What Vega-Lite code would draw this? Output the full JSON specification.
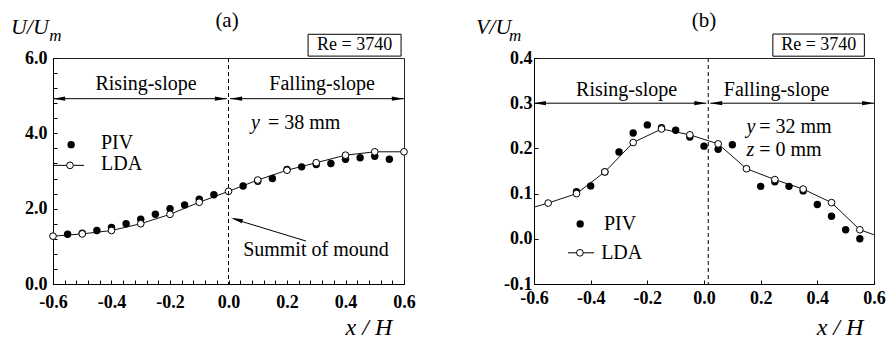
{
  "$schema": "https://vega.github.io/schema/vega-lite/v6.json",
  "autosize": {"type": "pad"},
  "padding": 0,
  "background": "white",
  "bounds": "flush",
  "spacing": 130,
  "config": {
    "view": {"stroke": "#222", "strokeWidth": 1},
    "font": "Liberation Serif",
    "axis": {"grid": false, "domainColor": "#000", "tickColor": "#000", "labelColor": "#000", "labelFont": "Liberation Serif", "labelFontWeight": "bold", "labelFontSize": 18, "tickSize": -4, "labelOverlap": false, "labelBound": false, "labelFlush": false},
    "text": {"font": "Liberation Serif", "color": "#000"}
  },
  "datasets": {
    "a_lda": [
      {"x": -0.6, "v": 1.27}, {"x": -0.5, "v": 1.33}, {"x": -0.4, "v": 1.42}, {"x": -0.3, "v": 1.6},
      {"x": -0.2, "v": 1.85}, {"x": -0.1, "v": 2.17}, {"x": 0.0, "v": 2.46}, {"x": 0.1, "v": 2.76},
      {"x": 0.2, "v": 3.02}, {"x": 0.3, "v": 3.22}, {"x": 0.4, "v": 3.42}, {"x": 0.5, "v": 3.51}, {"x": 0.6, "v": 3.51}
    ],
    "a_piv": [
      {"x": -0.55, "v": 1.32}, {"x": -0.5, "v": 1.35}, {"x": -0.45, "v": 1.42}, {"x": -0.4, "v": 1.5},
      {"x": -0.35, "v": 1.6}, {"x": -0.3, "v": 1.72}, {"x": -0.25, "v": 1.85}, {"x": -0.2, "v": 2.0},
      {"x": -0.15, "v": 2.1}, {"x": -0.1, "v": 2.25}, {"x": -0.05, "v": 2.37}, {"x": 0.05, "v": 2.6},
      {"x": 0.1, "v": 2.73}, {"x": 0.15, "v": 2.8}, {"x": 0.2, "v": 3.04}, {"x": 0.25, "v": 3.11},
      {"x": 0.3, "v": 3.17}, {"x": 0.35, "v": 3.2}, {"x": 0.4, "v": 3.31}, {"x": 0.45, "v": 3.35},
      {"x": 0.5, "v": 3.39}, {"x": 0.55, "v": 3.31}
    ],
    "b_lda": [
      {"x": -0.6, "v": 0.07, "edge": true},
      {"x": -0.55, "v": 0.079, "edge": false}, {"x": -0.45, "v": 0.1, "edge": false}, {"x": -0.35, "v": 0.148, "edge": false},
      {"x": -0.25, "v": 0.213, "edge": false}, {"x": -0.15, "v": 0.243, "edge": false}, {"x": -0.05, "v": 0.23, "edge": false},
      {"x": 0.05, "v": 0.21, "edge": false}, {"x": 0.15, "v": 0.155, "edge": false}, {"x": 0.25, "v": 0.131, "edge": false},
      {"x": 0.35, "v": 0.11, "edge": false}, {"x": 0.45, "v": 0.08, "edge": false}, {"x": 0.55, "v": 0.02, "edge": false},
      {"x": 0.6, "v": 0.009, "edge": true}
    ],
    "b_piv": [
      {"x": -0.45, "v": 0.104}, {"x": -0.4, "v": 0.117}, {"x": -0.35, "v": 0.148}, {"x": -0.3, "v": 0.192},
      {"x": -0.25, "v": 0.234}, {"x": -0.2, "v": 0.252}, {"x": -0.15, "v": 0.246}, {"x": -0.1, "v": 0.24},
      {"x": -0.05, "v": 0.225}, {"x": 0.0, "v": 0.205}, {"x": 0.05, "v": 0.198}, {"x": 0.1, "v": 0.208},
      {"x": 0.2, "v": 0.116}, {"x": 0.25, "v": 0.126}, {"x": 0.3, "v": 0.116}, {"x": 0.35, "v": 0.106},
      {"x": 0.4, "v": 0.076}, {"x": 0.45, "v": 0.05}, {"x": 0.5, "v": 0.02}, {"x": 0.55, "v": 0.0}
    ]
  },
  "hconcat": [
    {
      "width": 351,
      "height": 226,
      "resolve": {"axis": {"x": "independent", "y": "independent"}},
      "layer": [
        {
          "data": {"values": [{"x1": -0.7778, "x2": 2.258, "y1": 7.513, "y2": -1.54}]},
          "mark": {"type": "rect", "fillOpacity": 0, "strokeWidth": 0, "clip": false},
          "encoding": {
            "x": {"field": "x1", "type": "quantitative", "scale": {"domain": [-0.6, 0.6], "nice": false, "zero": false},
              "axis": {"title": null, "orient": "bottom", "labels": false,
                "values": [-0.6, -0.56, -0.52, -0.48, -0.44, -0.4, -0.36, -0.32, -0.28, -0.24, -0.2, -0.16, -0.12, -0.08, -0.04, 0, 0.04, 0.08, 0.12, 0.16, 0.2, 0.24, 0.28, 0.32, 0.36, 0.4, 0.44, 0.48, 0.52, 0.56, 0.6]}},
            "x2": {"field": "x2"},
            "y": {"field": "y1", "type": "quantitative", "scale": {"domain": [0, 6], "nice": false, "zero": false},
              "axis": {"title": null, "orient": "left", "labels": false,
                "values": [0, 0.4, 0.8, 1.2, 1.6, 2, 2.4, 2.8, 3.2, 3.6, 4, 4.4, 4.8, 5.2, 5.6, 6]}},
            "y2": {"field": "y2"}
          }
        },
        {
          "data": {"name": "a_lda"},
          "mark": {"type": "line", "color": "#111", "strokeWidth": 1},
          "encoding": {
            "x": {"field": "x", "type": "quantitative", "scale": {"domain": [-0.6, 0.6], "nice": false, "zero": false},
              "axis": {"title": null, "orient": "bottom", "domain": false, "ticks": false, "labelPadding": 9,
                "values": [-0.6, -0.4, -0.2, 0, 0.2, 0.4, 0.6],
                "labelExpr": "replace(format(datum.value,'.1f'),'\u2212','-')"}},
            "y": {"field": "v", "type": "quantitative", "scale": {"domain": [0, 6], "nice": false, "zero": false},
              "axis": {"title": null, "orient": "left", "domain": false, "ticks": false, "labelPadding": 6,
                "values": [0, 2, 4, 6], "format": ".1f"}}
          }
        },
        {
          "data": {"name": "a_piv"},
          "mark": {"type": "point", "shape": "circle", "filled": true, "color": "#000", "size": 55, "opacity": 1},
          "encoding": {
            "x": {"field": "x", "type": "quantitative", "scale": {"domain": [-0.6, 0.6], "nice": false, "zero": false}, "axis": null},
            "y": {"field": "v", "type": "quantitative", "scale": {"domain": [0, 6], "nice": false, "zero": false}, "axis": null}
          }
        },
        {
          "data": {"name": "a_lda"},
          "mark": {"type": "point", "shape": "circle", "filled": true, "fill": "white", "stroke": "#000", "strokeWidth": 1, "size": 45, "opacity": 1},
          "encoding": {
            "x": {"field": "x", "type": "quantitative", "scale": {"domain": [-0.6, 0.6], "nice": false, "zero": false}, "axis": null},
            "y": {"field": "v", "type": "quantitative", "scale": {"domain": [0, 6], "nice": false, "zero": false}, "axis": null}
          }
        },
        {
          "data": {"values": [{"x": 0}]},
          "mark": {"type": "rule", "color": "#000", "strokeWidth": 1, "strokeDash": [4, 3]},
          "encoding": {
            "x": {"field": "x", "type": "quantitative", "scale": {"domain": [-0.6, 0.6], "nice": false, "zero": false}, "axis": null}
          }
        },
        {
          "data": {"values": [{"x1": -0.6, "x2": -0.005, "y": 4.92}, {"x1": 0.005, "x2": 0.6, "y": 4.92}]},
          "mark": {"type": "rule", "color": "#000", "strokeWidth": 1},
          "encoding": {
            "x": {"field": "x1", "type": "quantitative", "scale": {"domain": [-0.6, 0.6], "nice": false, "zero": false}, "axis": null},
            "x2": {"field": "x2"},
            "y": {"field": "y", "type": "quantitative", "scale": {"domain": [0, 6], "nice": false, "zero": false}, "axis": null}
          }
        },
        {
          "data": {"values": [{"x": -0.579, "y": 4.92}, {"x": 0.026, "y": 4.92}]},
          "mark": {"type": "point", "shape": "M-1,0L1,-0.35L1,0.35Z", "filled": true, "color": "#000", "size": 144, "opacity": 1, "strokeWidth": 0},
          "encoding": {
            "x": {"field": "x", "type": "quantitative", "scale": {"domain": [-0.6, 0.6], "nice": false, "zero": false}, "axis": null},
            "y": {"field": "y", "type": "quantitative", "scale": {"domain": [0, 6], "nice": false, "zero": false}, "axis": null}
          }
        },
        {
          "data": {"values": [{"x": -0.026, "y": 4.92}, {"x": 0.579, "y": 4.92}]},
          "mark": {"type": "point", "shape": "M-1,0L1,-0.35L1,0.35Z", "angle": 180, "filled": true, "color": "#000", "size": 144, "opacity": 1, "strokeWidth": 0},
          "encoding": {
            "x": {"field": "x", "type": "quantitative", "scale": {"domain": [-0.6, 0.6], "nice": false, "zero": false}, "axis": null},
            "y": {"field": "y", "type": "quantitative", "scale": {"domain": [0, 6], "nice": false, "zero": false}, "axis": null}
          }
        },
        {
          "data": {"values": [{"x1": 0.265, "y1": 1.14, "x2": 0.02, "y2": 1.72}]},
          "mark": {"type": "rule", "color": "#000", "strokeWidth": 1},
          "encoding": {
            "x": {"field": "x1", "type": "quantitative", "scale": {"domain": [-0.6, 0.6], "nice": false, "zero": false}, "axis": null},
            "x2": {"field": "x2"},
            "y": {"field": "y1", "type": "quantitative", "scale": {"domain": [0, 6], "nice": false, "zero": false}, "axis": null},
            "y2": {"field": "y2"}
          }
        },
        {
          "data": {"values": [{"x": 0.028, "y": 1.71}]},
          "mark": {"type": "point", "shape": "M-1,0L1,-0.35L1,0.35Z", "angle": 17, "filled": true, "color": "#000", "size": 144, "opacity": 1, "strokeWidth": 0},
          "encoding": {
            "x": {"field": "x", "type": "quantitative", "scale": {"domain": [-0.6, 0.6], "nice": false, "zero": false}, "axis": null},
            "y": {"field": "y", "type": "quantitative", "scale": {"domain": [0, 6], "nice": false, "zero": false}, "axis": null}
          }
        },
        {
          "data": {"values": [{"x1": 0.272, "x2": 0.59, "y1": 6.05, "y2": 6.63}]},
          "mark": {"type": "rect", "fill": "white", "stroke": "#000", "strokeWidth": 1, "clip": false},
          "encoding": {
            "x": {"field": "x1", "type": "quantitative", "scale": {"domain": [-0.6, 0.6], "nice": false, "zero": false}, "axis": null},
            "x2": {"field": "x2"},
            "y": {"field": "y1", "type": "quantitative", "scale": {"domain": [0, 6], "nice": false, "zero": false}, "axis": null},
            "y2": {"field": "y2"}
          }
        },
        {
          "data": {"values": [{"x": -0.597, "x2": -0.494, "y": 3.15}]},
          "mark": {"type": "rule", "color": "#000", "strokeWidth": 1},
          "encoding": {
            "x": {"field": "x", "type": "quantitative", "scale": {"domain": [-0.6, 0.6], "nice": false, "zero": false}, "axis": null},
            "x2": {"field": "x2"},
            "y": {"field": "y", "type": "quantitative", "scale": {"domain": [0, 6], "nice": false, "zero": false}, "axis": null}
          }
        },
        {
          "data": {"values": [{"x": -0.538, "y": 3.7}]},
          "mark": {"type": "point", "shape": "circle", "filled": true, "color": "#000", "size": 55, "opacity": 1},
          "encoding": {
            "x": {"field": "x", "type": "quantitative", "scale": {"domain": [-0.6, 0.6], "nice": false, "zero": false}, "axis": null},
            "y": {"field": "y", "type": "quantitative", "scale": {"domain": [0, 6], "nice": false, "zero": false}, "axis": null}
          }
        },
        {
          "data": {"values": [{"x": -0.542, "y": 3.15}]},
          "mark": {"type": "point", "shape": "circle", "filled": true, "fill": "white", "stroke": "#000", "strokeWidth": 1, "size": 45, "opacity": 1},
          "encoding": {
            "x": {"field": "x", "type": "quantitative", "scale": {"domain": [-0.6, 0.6], "nice": false, "zero": false}, "axis": null},
            "y": {"field": "y", "type": "quantitative", "scale": {"domain": [0, 6], "nice": false, "zero": false}, "axis": null}
          }
        },
        {
          "data": {"values": [
            {"x": -0.282, "y": 5.15, "t": "Rising-slope"},
            {"x": 0.32, "y": 5.15, "t": "Falling-slope"}
          ]},
          "mark": {"type": "text", "fontSize": 20, "align": "center", "baseline": "alphabetic", "clip": false},
          "encoding": {
            "x": {"field": "x", "type": "quantitative", "scale": {"domain": [-0.6, 0.6], "nice": false, "zero": false}, "axis": null},
            "y": {"field": "y", "type": "quantitative", "scale": {"domain": [0, 6], "nice": false, "zero": false}, "axis": null},
            "text": {"field": "t"}
          }
        },
        {
          "data": {"values": [
            {"x": 0.135, "y": 4.11, "t": "=  38 mm"},
            {"x": 0.05, "y": 0.75, "t": "Summit of mound"},
            {"x": -0.436, "y": 3.58, "t": "PIV"},
            {"x": -0.436, "y": 3.03, "t": "LDA"}
          ]},
          "mark": {"type": "text", "fontSize": 20, "align": "left", "baseline": "alphabetic", "clip": false},
          "encoding": {
            "x": {"field": "x", "type": "quantitative", "scale": {"domain": [-0.6, 0.6], "nice": false, "zero": false}, "axis": null},
            "y": {"field": "y", "type": "quantitative", "scale": {"domain": [0, 6], "nice": false, "zero": false}, "axis": null},
            "text": {"field": "t"}
          }
        },
        {
          "data": {"values": [
            {"x": 0.077, "y": 4.11, "t": "y"}
          ]},
          "mark": {"type": "text", "fontSize": 20, "fontStyle": "italic", "align": "left", "baseline": "alphabetic", "clip": false},
          "encoding": {
            "x": {"field": "x", "type": "quantitative", "scale": {"domain": [-0.6, 0.6], "nice": false, "zero": false}, "axis": null},
            "y": {"field": "y", "type": "quantitative", "scale": {"domain": [0, 6], "nice": false, "zero": false}, "axis": null},
            "text": {"field": "t"}
          }
        },
        {
          "data": {"values": [
            {"x": 0.431, "y": 6.34, "t": "Re = 3740"}
          ]},
          "mark": {"type": "text", "fontSize": 18, "align": "center", "baseline": "middle", "clip": false},
          "encoding": {
            "x": {"field": "x", "type": "quantitative", "scale": {"domain": [-0.6, 0.6], "nice": false, "zero": false}, "axis": null},
            "y": {"field": "y", "type": "quantitative", "scale": {"domain": [0, 6], "nice": false, "zero": false}, "axis": null},
            "text": {"field": "t"}
          }
        },
        {
          "data": {"values": [
            {"x": -0.005, "y": 6.82, "t": "(a)"}
          ]},
          "mark": {"type": "text", "fontSize": 21, "align": "center", "baseline": "alphabetic", "clip": false},
          "encoding": {
            "x": {"field": "x", "type": "quantitative", "scale": {"domain": [-0.6, 0.6], "nice": false, "zero": false}, "axis": null},
            "y": {"field": "y", "type": "quantitative", "scale": {"domain": [0, 6], "nice": false, "zero": false}, "axis": null},
            "text": {"field": "t"}
          }
        },
        {
          "data": {"values": [
            {"x": -0.744, "y": 6.63, "t": "U/U"}
          ]},
          "mark": {"type": "text", "fontSize": 22, "fontStyle": "italic", "align": "left", "baseline": "alphabetic", "clip": false},
          "encoding": {
            "x": {"field": "x", "type": "quantitative", "scale": {"domain": [-0.6, 0.6], "nice": false, "zero": false}, "axis": null},
            "y": {"field": "y", "type": "quantitative", "scale": {"domain": [0, 6], "nice": false, "zero": false}, "axis": null},
            "text": {"field": "t"}
          }
        },
        {
          "data": {"values": [
            {"x": 0.48, "y": -1.35, "t": "x / H"}
          ]},
          "mark": {"type": "text", "fontSize": 24, "fontStyle": "italic", "align": "center", "baseline": "alphabetic", "clip": false},
          "encoding": {
            "x": {"field": "x", "type": "quantitative", "scale": {"domain": [-0.6, 0.6], "nice": false, "zero": false}, "axis": null},
            "y": {"field": "y", "type": "quantitative", "scale": {"domain": [0, 6], "nice": false, "zero": false}, "axis": null},
            "text": {"field": "t"}
          }
        },
        {
          "data": {"values": [
            {"x": -0.613, "y": 6.45, "t": "m"}
          ]},
          "mark": {"type": "text", "fontSize": 17, "fontStyle": "italic", "align": "left", "baseline": "alphabetic", "clip": false},
          "encoding": {
            "x": {"field": "x", "type": "quantitative", "scale": {"domain": [-0.6, 0.6], "nice": false, "zero": false}, "axis": null},
            "y": {"field": "y", "type": "quantitative", "scale": {"domain": [0, 6], "nice": false, "zero": false}, "axis": null},
            "text": {"field": "t"}
          }
        }
      ]
    },
    {
      "width": 340,
      "height": 226,
      "layer": [
        {
          "data": {"name": "b_lda"},
          "mark": {"type": "line", "color": "#111", "strokeWidth": 1},
          "encoding": {
            "x": {"field": "x", "type": "quantitative", "scale": {"domain": [-0.6, 0.6], "nice": false, "zero": false},
              "axis": {"title": null, "labelPadding": 9, "labelOverlap": false,
                "values": [-0.6, -0.4, -0.2, 0, 0.2, 0.4, 0.6],
                "labelExpr": "replace(format(datum.value,'.1f'),'\u2212','-')"}},
            "y": {"field": "v", "type": "quantitative", "scale": {"domain": [-0.1, 0.4], "nice": false, "zero": false},
              "axis": {"title": null, "labelPadding": 6, "labelOverlap": false,
                "values": [-0.1, 0, 0.1, 0.2, 0.3, 0.4],
                "labelExpr": "replace(format(datum.value,'.1f'),'\u2212','-')"}}
          }
        },
        {
          "data": {"name": "b_piv"},
          "mark": {"type": "point", "shape": "circle", "filled": true, "color": "#000", "size": 55, "opacity": 1},
          "encoding": {
            "x": {"field": "x", "type": "quantitative", "scale": {"domain": [-0.6, 0.6], "nice": false, "zero": false}},
            "y": {"field": "v", "type": "quantitative", "scale": {"domain": [-0.1, 0.4], "nice": false, "zero": false}}
          }
        },
        {
          "data": {"name": "b_lda"},
          "transform": [{"filter": "!datum.edge"}],
          "mark": {"type": "point", "shape": "circle", "filled": true, "fill": "white", "stroke": "#000", "strokeWidth": 1, "size": 45, "opacity": 1},
          "encoding": {
            "x": {"field": "x", "type": "quantitative", "scale": {"domain": [-0.6, 0.6], "nice": false, "zero": false}},
            "y": {"field": "v", "type": "quantitative", "scale": {"domain": [-0.1, 0.4], "nice": false, "zero": false}}
          }
        },
        {
          "data": {"values": [{"x": 0.015}]},
          "mark": {"type": "rule", "color": "#000", "strokeWidth": 1, "strokeDash": [4, 3]},
          "encoding": {
            "x": {"field": "x", "type": "quantitative", "scale": {"domain": [-0.6, 0.6], "nice": false, "zero": false}}
          }
        },
        {
          "data": {"values": [{"x1": -0.6, "x2": 0.008, "y": 0.3}, {"x1": 0.022, "x2": 0.6, "y": 0.3}]},
          "mark": {"type": "rule", "color": "#000", "strokeWidth": 1},
          "encoding": {
            "x": {"field": "x1", "type": "quantitative", "scale": {"domain": [-0.6, 0.6], "nice": false, "zero": false}},
            "x2": {"field": "x2"},
            "y": {"field": "y", "type": "quantitative", "scale": {"domain": [-0.1, 0.4], "nice": false, "zero": false}}
          }
        },
        {
          "data": {"values": [{"x": -0.579, "y": 0.3}, {"x": 0.043, "y": 0.3}]},
          "mark": {"type": "point", "shape": "M-1,0L1,-0.35L1,0.35Z", "filled": true, "color": "#000", "size": 144, "opacity": 1, "strokeWidth": 0},
          "encoding": {
            "x": {"field": "x", "type": "quantitative", "scale": {"domain": [-0.6, 0.6], "nice": false, "zero": false}},
            "y": {"field": "y", "type": "quantitative", "scale": {"domain": [-0.1, 0.4], "nice": false, "zero": false}}
          }
        },
        {
          "data": {"values": [{"x": -0.013, "y": 0.3}, {"x": 0.579, "y": 0.3}]},
          "mark": {"type": "point", "shape": "M-1,0L1,-0.35L1,0.35Z", "angle": 180, "filled": true, "color": "#000", "size": 144, "opacity": 1, "strokeWidth": 0},
          "encoding": {
            "x": {"field": "x", "type": "quantitative", "scale": {"domain": [-0.6, 0.6], "nice": false, "zero": false}},
            "y": {"field": "y", "type": "quantitative", "scale": {"domain": [-0.1, 0.4], "nice": false, "zero": false}}
          }
        },
        {
          "data": {"values": [{"x1": 0.243, "x2": 0.566, "y1": 0.404, "y2": 0.453}]},
          "mark": {"type": "rect", "fill": "white", "stroke": "#000", "strokeWidth": 1, "clip": false},
          "encoding": {
            "x": {"field": "x1", "type": "quantitative", "scale": {"domain": [-0.6, 0.6], "nice": false, "zero": false}},
            "x2": {"field": "x2"},
            "y": {"field": "y1", "type": "quantitative", "scale": {"domain": [-0.1, 0.4], "nice": false, "zero": false}},
            "y2": {"field": "y2"}
          }
        },
        {
          "data": {"values": [{"x": -0.48, "x2": -0.388, "y": -0.031}]},
          "mark": {"type": "rule", "color": "#000", "strokeWidth": 1},
          "encoding": {
            "x": {"field": "x", "type": "quantitative", "scale": {"domain": [-0.6, 0.6], "nice": false, "zero": false}},
            "x2": {"field": "x2"},
            "y": {"field": "y", "type": "quantitative", "scale": {"domain": [-0.1, 0.4], "nice": false, "zero": false}}
          }
        },
        {
          "data": {"values": [{"x": -0.437, "y": 0.033}]},
          "mark": {"type": "point", "shape": "circle", "filled": true, "color": "#000", "size": 55, "opacity": 1},
          "encoding": {
            "x": {"field": "x", "type": "quantitative", "scale": {"domain": [-0.6, 0.6], "nice": false, "zero": false}},
            "y": {"field": "y", "type": "quantitative", "scale": {"domain": [-0.1, 0.4], "nice": false, "zero": false}}
          }
        },
        {
          "data": {"values": [{"x": -0.438, "y": -0.031}]},
          "mark": {"type": "point", "shape": "circle", "filled": true, "fill": "white", "stroke": "#000", "strokeWidth": 1, "size": 45, "opacity": 1},
          "encoding": {
            "x": {"field": "x", "type": "quantitative", "scale": {"domain": [-0.6, 0.6], "nice": false, "zero": false}},
            "y": {"field": "y", "type": "quantitative", "scale": {"domain": [-0.1, 0.4], "nice": false, "zero": false}}
          }
        },
        {
          "data": {"values": [
            {"x": -0.273, "y": 0.316, "t": "Rising-slope"},
            {"x": 0.256, "y": 0.316, "t": "Falling-slope"}
          ]},
          "mark": {"type": "text", "fontSize": 20, "align": "center", "baseline": "alphabetic", "clip": false},
          "encoding": {
            "x": {"field": "x", "type": "quantitative", "scale": {"domain": [-0.6, 0.6], "nice": false, "zero": false}},
            "y": {"field": "y", "type": "quantitative", "scale": {"domain": [-0.1, 0.4], "nice": false, "zero": false}},
            "text": {"field": "t"}
          }
        },
        {
          "data": {"values": [
            {"x": 0.195, "y": 0.235, "t": "=  32 mm"},
            {"x": 0.195, "y": 0.183, "t": "=   0 mm"},
            {"x": -0.353, "y": 0.02, "t": "PIV"},
            {"x": -0.363, "y": -0.044, "t": "LDA"}
          ]},
          "mark": {"type": "text", "fontSize": 20, "align": "left", "baseline": "alphabetic", "clip": false},
          "encoding": {
            "x": {"field": "x", "type": "quantitative", "scale": {"domain": [-0.6, 0.6], "nice": false, "zero": false}},
            "y": {"field": "y", "type": "quantitative", "scale": {"domain": [-0.1, 0.4], "nice": false, "zero": false}},
            "text": {"field": "t"}
          }
        },
        {
          "data": {"values": [
            {"x": 0.15, "y": 0.235, "t": "y"},
            {"x": 0.15, "y": 0.183, "t": "z"}
          ]},
          "mark": {"type": "text", "fontSize": 20, "fontStyle": "italic", "align": "left", "baseline": "alphabetic", "clip": false},
          "encoding": {
            "x": {"field": "x", "type": "quantitative", "scale": {"domain": [-0.6, 0.6], "nice": false, "zero": false}},
            "y": {"field": "y", "type": "quantitative", "scale": {"domain": [-0.1, 0.4], "nice": false, "zero": false}},
            "text": {"field": "t"}
          }
        },
        {
          "data": {"values": [
            {"x": 0.405, "y": 0.429, "t": "Re = 3740"}
          ]},
          "mark": {"type": "text", "fontSize": 18, "align": "center", "baseline": "middle", "clip": false},
          "encoding": {
            "x": {"field": "x", "type": "quantitative", "scale": {"domain": [-0.6, 0.6], "nice": false, "zero": false}},
            "y": {"field": "y", "type": "quantitative", "scale": {"domain": [-0.1, 0.4], "nice": false, "zero": false}},
            "text": {"field": "t"}
          }
        },
        {
          "data": {"values": [
            {"x": 0.0, "y": 0.469, "t": "(b)"}
          ]},
          "mark": {"type": "text", "fontSize": 21, "align": "center", "baseline": "alphabetic", "clip": false},
          "encoding": {
            "x": {"field": "x", "type": "quantitative", "scale": {"domain": [-0.6, 0.6], "nice": false, "zero": false}},
            "y": {"field": "y", "type": "quantitative", "scale": {"domain": [-0.1, 0.4], "nice": false, "zero": false}},
            "text": {"field": "t"}
          }
        },
        {
          "data": {"values": [
            {"x": -0.805, "y": 0.453, "t": "V/U"}
          ]},
          "mark": {"type": "text", "fontSize": 22, "fontStyle": "italic", "align": "left", "baseline": "alphabetic", "clip": false},
          "encoding": {
            "x": {"field": "x", "type": "quantitative", "scale": {"domain": [-0.6, 0.6], "nice": false, "zero": false}},
            "y": {"field": "y", "type": "quantitative", "scale": {"domain": [-0.1, 0.4], "nice": false, "zero": false}},
            "text": {"field": "t"}
          }
        },
        {
          "data": {"values": [
            {"x": 0.48, "y": -0.212, "t": "x / H"}
          ]},
          "mark": {"type": "text", "fontSize": 24, "fontStyle": "italic", "align": "center", "baseline": "alphabetic", "clip": false},
          "encoding": {
            "x": {"field": "x", "type": "quantitative", "scale": {"domain": [-0.6, 0.6], "nice": false, "zero": false}},
            "y": {"field": "y", "type": "quantitative", "scale": {"domain": [-0.1, 0.4], "nice": false, "zero": false}},
            "text": {"field": "t"}
          }
        },
        {
          "data": {"values": [
            {"x": -0.688, "y": 0.438, "t": "m"}
          ]},
          "mark": {"type": "text", "fontSize": 17, "fontStyle": "italic", "align": "left", "baseline": "alphabetic", "clip": false},
          "encoding": {
            "x": {"field": "x", "type": "quantitative", "scale": {"domain": [-0.6, 0.6], "nice": false, "zero": false}},
            "y": {"field": "y", "type": "quantitative", "scale": {"domain": [-0.1, 0.4], "nice": false, "zero": false}},
            "text": {"field": "t"}
          }
        }
      ]
    }
  ]
}
